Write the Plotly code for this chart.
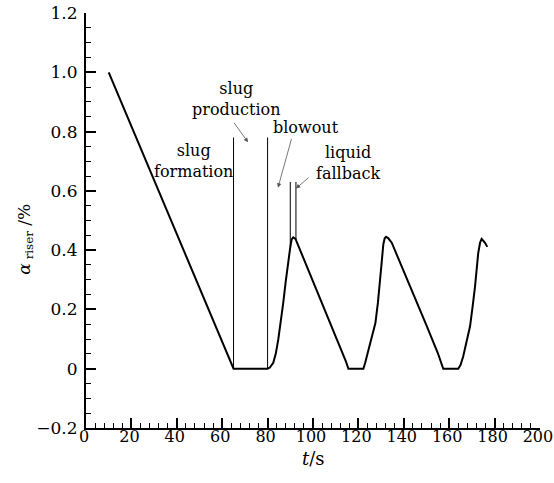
import plotly.graph_objects as go

# ---- data ----
t = [10, 20, 30, 40, 50, 60, 64.5, 65, 80, 81, 82.5, 83.6, 84.7, 85.8, 86.9, 88.0, 89.1, 90.0,
     90.6, 91.3, 92.3, 93.0, 94.3, 100, 105, 110, 114.5, 115.6, 122.2, 123.0, 124.4, 126.0,
     127.5, 128.6, 129.7, 130.4, 131.0, 131.6, 132.2, 133.2, 134.7, 140, 145, 150, 155, 157.4,
     164.0, 165.0, 166.2, 167.7, 169.2, 170.3, 171.4, 172.8, 173.6, 174.3, 175.8, 176.8]
alpha = [1.0, 0.818, 0.636, 0.455, 0.273, 0.091, 0.008, 0.0, 0.0, 0.004, 0.02, 0.05, 0.098, 0.155,
         0.222, 0.295, 0.368, 0.41, 0.436, 0.443, 0.438, 0.425, 0.397, 0.295, 0.203, 0.111,
         0.025, 0.0, 0.0, 0.02, 0.064, 0.105, 0.154, 0.222, 0.30, 0.37, 0.42, 0.44, 0.445, 0.44,
         0.425, 0.33, 0.238, 0.146, 0.053, 0.0, 0.0, 0.012, 0.042, 0.088, 0.143, 0.208, 0.278,
         0.39, 0.425, 0.438, 0.425, 0.411]

event_t = [65, 80, 90, 92.5]
event_low = [0.0, 0.0, 0.41, 0.435]
event_high = [0.78, 0.78, 0.63, 0.63]

x_ticks = [0, 20, 40, 60, 80, 100, 120, 140, 160, 180, 200]
y_ticks = [-0.2, 0, 0.2, 0.4, 0.6, 0.8, 1.0, 1.2]
y_ticktext = ["\u22120.2", "0", "0.2", "0.4", "0.6", "0.8", "1.0", "1.2"]

FONT = "DejaVu Serif"

fig = go.Figure()
fig.add_trace(go.Scatter(x=t, y=alpha, mode="lines",
                         line=dict(color="black", width=2), showlegend=False))
for et, lo, hi in zip(event_t, event_low, event_high):
    fig.add_trace(go.Scatter(x=[et, et], y=[lo, hi], mode="lines",
                             line=dict(color="black", width=1), showlegend=False))

labels = [
    ("slug<br>formation", 47.3, 0.70),
    ("slug<br>production", 66.1, 0.91),
    ("blowout", 97.0, 0.814),
    ("liquid<br>fallback", 115.5, 0.693),
]
for txt, x, y in labels:
    fig.add_annotation(x=x, y=y, text=txt, showarrow=False,
                       font=dict(family=FONT, size=16, color="black"), align="center")

arrows = [  # (head_x, head_y, tail_x, tail_y)
    (71.4, 0.764, 64.8, 0.834),
    (84.6, 0.611, 90.7, 0.780),
    (92.5, 0.608, 98.7, 0.649),
]
for hx, hy, tx, ty in arrows:
    fig.add_annotation(x=hx, y=hy, ax=tx, ay=ty, xref="x", yref="y", axref="x", ayref="y",
                       text="", showarrow=True, arrowhead=2, arrowsize=1.1, arrowwidth=0.8,
                       arrowcolor="#555555")

# axis titles
fig.add_annotation(xref="paper", yref="y", x=-0.134, y=0.436, text="<i>\u03b1</i><sub> riser</sub> /%",
                   textangle=-90, showarrow=False, xanchor="center", yanchor="middle",
                   font=dict(family=FONT, size=17, color="black"))
fig.add_annotation(xref="paper", yref="paper", x=0.5, y=-0.074, text="<i>t</i>/s",
                   showarrow=False, xanchor="center", yanchor="middle",
                   font=dict(family=FONT, size=18, color="black"))

fig.update_layout(
    width=554, height=483,
    margin=dict(l=86, r=14, t=13, b=55),
    plot_bgcolor="white", paper_bgcolor="white",
    font=dict(family=FONT, size=17, color="black"),
    xaxis=dict(range=[0, 200.02], tickvals=x_ticks, ticks="inside",
               ticklen=10, tickwidth=2, ticklabelshift=-2, ticklabelstandoff=-7,
               tickcolor="black", showline=True, linecolor="black", linewidth=2,
               showgrid=False, zeroline=False, tickfont=dict(family=FONT, size=16),
               ticklabeloverflow="allow", automargin=False,
               minor=dict(dtick=4, tick0=0, ticks="inside", ticklen=5, tickwidth=1,
                          tickcolor="black")),
    yaxis=dict(range=[-0.2, 1.2], tickvals=y_ticks, ticktext=y_ticktext, ticks="inside",
               ticklen=10, tickwidth=2, tickcolor="black", showline=True, linecolor="black",
               linewidth=2, showgrid=False, zeroline=False, tickfont=dict(family=FONT, size=17),
               ticklabeloverflow="allow", automargin=False, ticklabelstandoff=3,
               minor=dict(dtick=0.05, tick0=0, ticks="inside", ticklen=5, tickwidth=1,
                          tickcolor="black")),
)

fig.write_html("out.html")
